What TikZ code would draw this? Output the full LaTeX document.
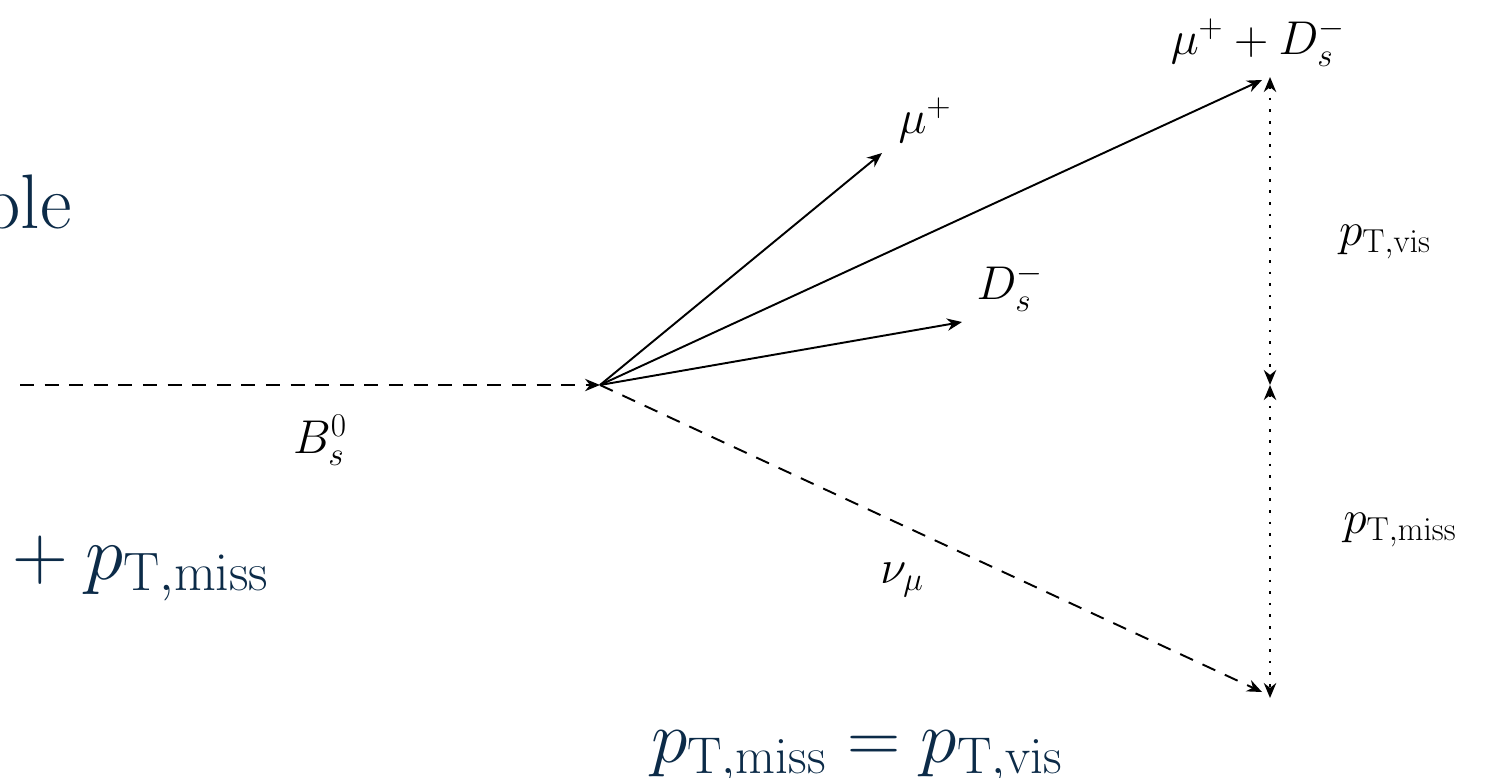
\RequirePackage{fix-cm}
\documentclass[tikz,border=0pt]{standalone}
\usepackage{amsmath,amssymb}
\usepackage{tikz}
\usetikzlibrary{arrows.meta}
\definecolor{slideblue}{RGB}{12,43,72}
\tikzset{
  lbl/.style={font=\fontsize{27}{32}\selectfont, inner sep=0pt},
  slide/.style={text=slideblue, font=\fontsize{44}{52}\selectfont, inner sep=0pt},
  track/.style={->, line width=1.1pt},
  invis/.style={->, line width=1.1pt, dash pattern=on 8pt off 6pt},
  measure/.style={<->, line width=1.5pt, dash pattern=on 1.5pt off 5.1pt},
}

\begin{document}
\begin{tikzpicture}[>={Stealth[length=8.5pt,width=7pt]}, x=0.02cm, y=-0.02cm]
  \useasboundingbox (0,0) rectangle (1496,777);

  % --- slide text around the picture ---
  \node[slide, anchor=base east] (title) at (72,228) {ple};
  \node[slide, anchor=base west] (sumtext) at (12,579) {$+\:p_{\mathrm{T,miss}}$};
  \node[slide, anchor=base, font=\fontsize{42}{50}\selectfont] (balance) at (857,762) {$p_{\mathrm{T,miss}} = p_{\mathrm{T,vis}}$};

  % --- Eckpunkte ---
  \coordinate (bstart) at (20,385);
  \coordinate (vtx) at (600,385);
  \coordinate (muend) at (882,153);
  \coordinate (dsend) at (962,322);
  \coordinate (sumend) at (1262,80);
  \coordinate (nuend) at (1262,692);
  \coordinate (vistop) at (1270,77);
  \coordinate (midpt) at (1270,385);
  \coordinate (missbot) at (1270,698);

  % --- Zerfall ---
  \draw[invis] (bstart) -- (vtx);
  \draw[track] (vtx) -- (muend);
  \draw[track] (vtx) -- (sumend);
  \draw[track] (vtx) -- (dsend);
  \draw[invis] (vtx) -- (nuend);

  % --- Impulsbilanz ---
  \draw[measure] (vistop) -- (midpt);
  \draw[measure] (midpt) -- (missbot);

  % --- Beschriftung ---
  \node[lbl] (bs) at (320,440) {$B_s^0$};
  \node[lbl] (mu) at (925,120) {$\mu^+$};
  \node[lbl] (ds) at (1010,287) {$D_s^-$};
  \node[lbl] (sum) at (1258,42) {$\mu^+ + D_s^-$};
  \node[lbl] (nu) at (902,580) {$\nu_\mu$};
  \node[lbl] (vis) at (1385,242) {$p_{\mathrm{T,vis}}$};
  \node[lbl] (miss) at (1400,530) {$p_{\mathrm{T,miss}}$};
\end{tikzpicture}
\end{document}
